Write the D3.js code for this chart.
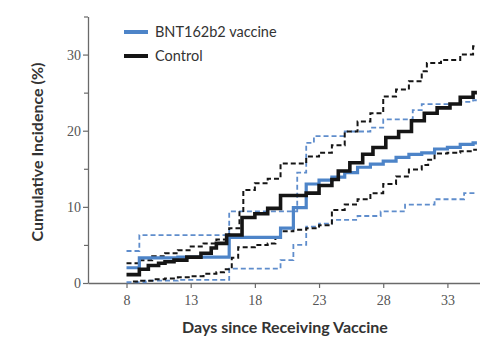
<!DOCTYPE html>
<html>
<head>
<meta charset="utf-8">
<script src="https://cdn.jsdelivr.net/npm/d3@7"></script>
<style>
  html, body { margin: 0; padding: 0; background: #fff; }
  svg { display: block; }
</style>
</head>
<body>
<svg id="chart" width="487" height="340"></svg>
<script>
// Tick values
const xTicks = [8, 13, 18, 23, 28, 33];
const yMajorTicks = [0, 10, 20, 30];
const yMinorTicks = [5, 15, 25, 35];

// Kaplan-Meier style step curves: [day, cumulative incidence %] from that day on
const lastDay = 35.3;
const vaccine = [[8, 2.0], [9, 3.3], [12, 3.4], [16, 6.0], [20, 7.2], [21, 9.9], [22, 13.0],
  [23, 13.5], [24, 13.9], [25, 14.5], [26, 15.2], [27, 15.6], [28, 16.0], [29, 16.5],
  [30, 16.9], [31, 17.1], [32, 17.6], [33, 17.8], [34, 18.2], [35, 18.4]];
const vaccineUpper = [[8, 4.2], [9, 6.3], [16, 9.4], [21.3, 14.5], [22, 18.4], [22.6, 19.3],
  [25, 19.9], [27, 20.4], [28, 21.5], [30.3, 22.7], [31, 23.5], [34, 23.8], [35, 24.0]];
const vaccineLower = [[8, 0.1], [9.5, 0.3], [12, 0.4], [16, 1.9], [20, 3.0], [21, 5.0], [22, 7.4],
  [23, 7.8], [24, 8.3], [26, 8.8], [27.8, 9.4], [29.7, 10.3], [32, 11.0], [34.3, 11.8]];

const control = [[8, 1.1], [9, 1.8], [9.7, 2.3], [10.5, 2.6], [11, 2.8], [11.7, 3.0], [12.7, 3.4],
  [13.8, 3.9], [14.6, 4.6], [15, 5.2], [15.8, 6.3], [17, 8.6], [18, 9.1], [19, 9.8], [20, 11.5],
  [22, 11.8], [23, 12.8], [24, 13.6], [24.5, 14.7], [25.4, 15.8], [26.4, 16.9], [27.2, 17.8],
  [28.2, 19.1], [29.2, 19.9], [30.2, 21.3], [31.2, 22.3], [32.2, 23.0], [33.2, 23.5],
  [34, 24.4], [35, 25.0]];
const controlUpper = [[8, 2.6], [9, 3.0], [10, 3.5], [11, 3.9], [12, 4.3], [13, 4.8], [14, 5.2],
  [15, 5.7], [16, 7.2], [16.8, 9.3], [17.1, 12.2], [18, 13.1], [19, 13.7], [20, 15.7],
  [22, 16.6], [23, 17.1], [24, 18.1], [25, 19.9], [26, 21.2], [27, 22.3], [28, 24.5],
  [29, 25.4], [30, 26.5], [31, 27.8], [31.4, 28.9], [32.5, 29.3], [34, 30.0], [35, 31.1]];
const controlLower = [[8.5, 0.2], [9, 0.3], [10, 0.5], [11, 0.6], [12, 0.75], [13, 0.9],
  [14, 1.2], [15, 1.4], [15.6, 1.8], [16.2, 3.3], [16.7, 4.7], [18, 5.0], [19, 5.2], [19.6, 6.0],
  [20, 6.8], [21, 7.0], [22, 7.2], [23, 7.6], [24, 9.6], [25, 10.3], [26, 11.0], [27, 11.8],
  [28, 13.0], [29, 14.0], [30, 14.9], [31, 15.5], [31.5, 16.2], [32, 17.0], [33, 17.1],
  [34, 17.3], [35, 17.5]];

const legendLabels = ["BNT162b2 vaccine", "Control"];

const blue = "#4d84c8";
const blueDash = "#5f8dcc";
const black = "#151515";

const svg = d3.select("#chart");
const x = d3.scaleLinear().domain([5, 35.5]).range([88, 479.5]);
const y = d3.scaleLinear().domain([0, 35]).range([283, 16.5]);

const axisColor = "#6a6a6a";
const tickFont = "'Liberation Serif', 'DejaVu Serif', serif";
const titleFont = "Lato, 'Open Sans', sans-serif";

// y axis: labelled major ticks plus short unlabelled minor ticks
const yAxisG = svg.append("g").attr("transform", `translate(${x(5)},0)`);
yAxisG.call(d3.axisLeft(y).tickValues(yMajorTicks).tickSize(5).tickSizeOuter(0).tickPadding(2));
const yMinorG = svg.append("g").attr("transform", `translate(${x(5)},0)`);
yMinorG.call(d3.axisLeft(y).tickValues(yMinorTicks).tickSize(4).tickSizeOuter(0).tickFormat(""));
yMinorG.select(".domain").remove();

// x axis
const xAxisG = svg.append("g").attr("transform", `translate(0,${y(0)})`);
xAxisG.call(d3.axisBottom(x).tickValues(xTicks).tickSize(5).tickSizeOuter(0).tickPadding(7));

[yAxisG, yMinorG, xAxisG].forEach(g => {
  g.selectAll(".domain").attr("stroke", axisColor).attr("stroke-width", 1.3);
  g.selectAll(".tick line").attr("stroke", axisColor).attr("stroke-width", 1.2);
  g.selectAll(".tick text").attr("fill", "#555").style("font-family", tickFont).style("font-size", "14px");
});

// step line generator
const stepLine = d3.line().x(d => x(d[0])).y(d => y(d[1])).curve(d3.curveStepAfter);
const withEnd = pts => pts.concat([[lastDay, pts[pts.length - 1][1]]]);

const plot = svg.append("g");
function drawSeries(pts, color, width, dashed) {
  plot.append("path")
    .datum(withEnd(pts))
    .attr("d", stepLine)
    .attr("fill", "none")
    .attr("stroke", color)
    .attr("stroke-width", width)
    .attr("stroke-dasharray", dashed ? "5,3" : null)
    .attr("stroke-linejoin", "miter");
}

drawSeries(vaccineLower, blueDash, 1.8, true);
drawSeries(vaccineUpper, blueDash, 1.8, true);
drawSeries(controlLower, black, 2, true);
drawSeries(controlUpper, black, 2, true);
drawSeries(vaccine, blue, 3.2, false);
drawSeries(control, black, 3.6, false);

// legend
const legend = svg.append("g");
const legendColors = [blue, black];
legendLabels.forEach((label, i) => {
  const ly = 32 + i * 24;
  legend.append("line")
    .attr("x1", 124).attr("x2", 148).attr("y1", ly).attr("y2", ly)
    .attr("stroke", legendColors[i]).attr("stroke-width", 4);
  legend.append("text")
    .attr("x", 155).attr("y", ly).attr("dy", "0.36em")
    .attr("fill", "#333")
    .style("font-family", titleFont).style("font-size", "14.5px")
    .text(label);
});

// axis titles
svg.append("text")
  .attr("x", 285).attr("y", 333)
  .attr("text-anchor", "middle")
  .attr("fill", "#333")
  .style("font-family", titleFont).style("font-size", "16px").style("font-weight", "bold")
  .text("Days since Receiving Vaccine");

svg.append("text")
  .attr("transform", "translate(37,152) rotate(-90)")
  .attr("text-anchor", "middle")
  .attr("dy", "0.36em")
  .attr("fill", "#333")
  .style("font-family", titleFont).style("font-size", "16px").style("font-weight", "bold")
  .text("Cumulative Incidence (%)");
</script>
</body>
</html>
